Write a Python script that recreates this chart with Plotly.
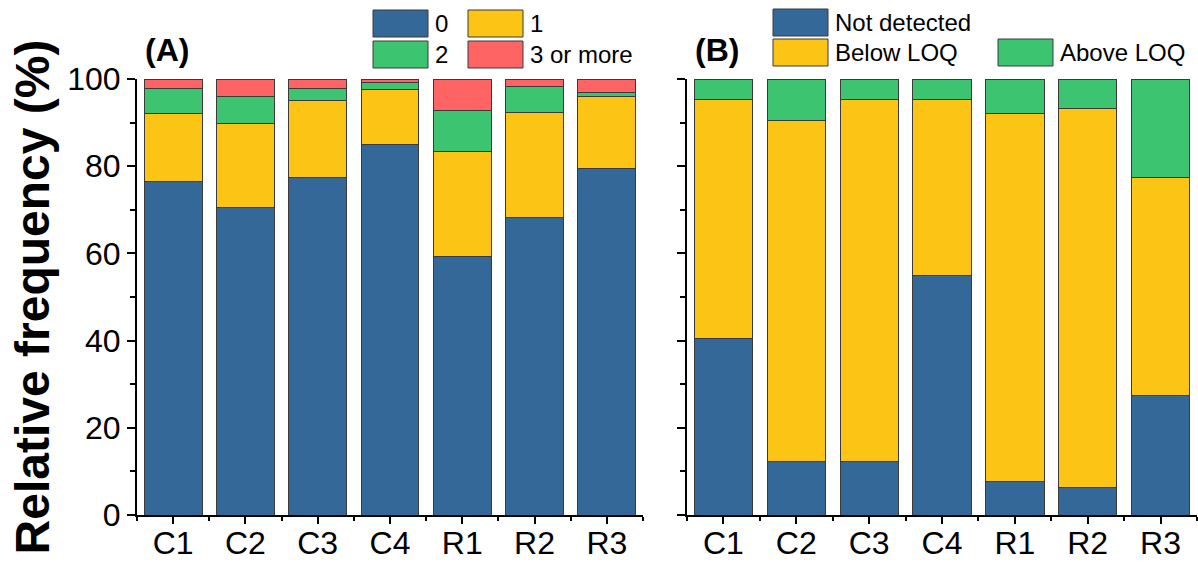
import plotly.graph_objects as go

categories = ["C1", "C2", "C3", "C4", "R1", "R2", "R3"]

# Panel A (relative frequency, %)
a_names = ["0", "1", "2", "3 or more"]
a_0 = [76.4, 70.6, 77.3, 84.9, 59.2, 68.3, 79.4]
a_1 = [15.8, 19.3, 17.7, 12.6, 24.1, 24.1, 16.5]
a_2 = [5.7, 6.2, 2.9, 1.6, 9.4, 5.8, 1.1]
a_3 = [2.1, 3.9, 2.1, 0.9, 7.3, 1.8, 3.0]

# Panel B
b_names = ["Not detected", "Below LOQ", "Above LOQ"]
b_nd = [40.4, 12.2, 12.2, 55.0, 7.6, 6.4, 27.3]
b_below = [54.8, 78.2, 83.0, 40.2, 84.6, 86.9, 50.0]
b_above = [4.8, 9.6, 4.8, 4.8, 7.8, 6.7, 22.7]

y_ticks = [0, 20, 40, 60, 80, 100]

BLUE = "#346899"
YELLOW = "#FCC414"
GREEN = "#3CC470"
RED = "#FF6464"
EDGE = "#3a3a3a"
FONT = "Arial, Liberation Sans, sans-serif"

W, H = 1198, 563
ML, MR, MT, MB = 137, 1, 79, 48
PW, PH = W - ML - MR, H - MT - MB


def px(x):
    return (x - ML) / PW


def py(y):
    return 1 - (y - MT) / PH


xpos = list(range(len(categories)))

fig = go.Figure()
for vals, name, col in zip([a_0, a_1, a_2, a_3], a_names, [BLUE, YELLOW, GREEN, RED]):
    fig.add_trace(go.Bar(x=xpos, y=vals, name=name, marker=dict(color=col, line=dict(color=EDGE, width=1)),
                         width=0.8, xaxis="x", yaxis="y", showlegend=False))
for vals, name, col in zip([b_nd, b_below, b_above], b_names, [BLUE, YELLOW, GREEN]):
    fig.add_trace(go.Bar(x=xpos, y=vals, name=name, marker=dict(color=col, line=dict(color=EDGE, width=1)),
                         width=0.8, xaxis="x2", yaxis="y2", showlegend=False))

xcommon = dict(range=[-0.5, len(categories) - 0.5], tickmode="array", tickvals=xpos, ticktext=categories,
               ticks="outside", ticklen=7, tickwidth=2, tickcolor="black", showline=True, linecolor="black",
               linewidth=2, showgrid=False, zeroline=False, ticklabelstandoff=-8,
               tickfont=dict(family=FONT, size=32, color="black"),
               minor=dict(tickmode="array", tickvals=[i - 0.5 for i in range(len(categories) + 1)],
                          ticks="outside", ticklen=4, tickwidth=2, tickcolor="black", showgrid=False))
ycommon = dict(range=[0, 100], tickmode="array", tickvals=y_ticks, ticks="outside", ticklen=8, tickwidth=2,
               tickcolor="black", showline=True, linecolor="black", linewidth=2, showgrid=False, zeroline=False,
               tickfont=dict(family=FONT, size=32, color="black"),
               minor=dict(dtick=10, tick0=0, ticks="outside", ticklen=5, tickwidth=2, tickcolor="black",
                          showgrid=False))

fig.update_layout(
    width=W, height=H, margin=dict(l=ML, r=MR, t=MT, b=MB, autoexpand=False),
    paper_bgcolor="white", plot_bgcolor="white", barmode="stack", showlegend=False,
    font=dict(family=FONT, color="black"),
    xaxis=dict(domain=[0, px(643)], anchor="y", **xcommon),
    xaxis2=dict(domain=[px(687), 1.0], anchor="y2", **xcommon),
    yaxis=dict(domain=[0, 1], anchor="x", showticklabels=True,
               title=dict(text="<b>Relative frequency (%)</b>", font=dict(family=FONT, size=48, color="black"),
                          standoff=2), **ycommon),
    yaxis2=dict(domain=[0, 1], anchor="x2", showticklabels=False, **ycommon),
)

# Panel labels
fig.add_annotation(text="<b>(A)</b>", x=px(167), y=py(50), xref="paper", yref="paper", showarrow=False,
                   font=dict(family=FONT, size=32, color="black"), xanchor="center", yanchor="middle")
fig.add_annotation(text="<b>(B)</b>", x=px(717), y=py(50), xref="paper", yref="paper", showarrow=False,
                   font=dict(family=FONT, size=32, color="black"), xanchor="center", yanchor="middle")

# Legend boxes (swatch left x, top y in pixels)
legend_a_pos = [(373, 10), (468, 10), (373, 41), (468, 41)]
legend_b_pos = [(773, 9), (773, 39), (998, 39)]
SW, SH = 55, 27


def add_legend(names, colors, positions):
    for name, col, (lx, ty) in zip(names, colors, positions):
        fig.add_shape(type="rect", xref="paper", yref="paper", x0=px(lx), x1=px(lx + SW), y0=py(ty + SH),
                      y1=py(ty), fillcolor=col, line=dict(color=EDGE, width=1))
        fig.add_annotation(text=name, x=px(lx + SW + 5), y=py(ty + SH / 2), xref="paper", yref="paper",
                           showarrow=False, xanchor="left", yanchor="middle",
                           font=dict(family=FONT, size=24, color="black"))


add_legend(a_names, [BLUE, YELLOW, GREEN, RED], legend_a_pos)
add_legend(b_names, [BLUE, YELLOW, GREEN], legend_b_pos)

fig.write_html("out.html", config={"displayModeBar": False},
               post_script="document.body.style.margin='0';document.body.style.padding='0';")
